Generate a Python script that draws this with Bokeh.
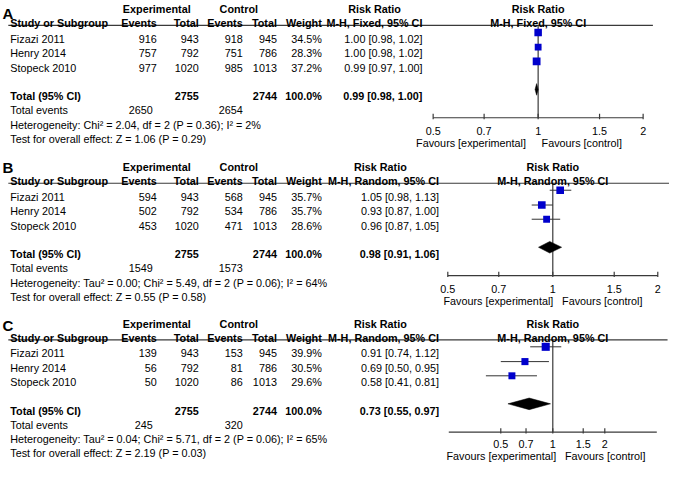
import math
from bokeh.plotting import figure
from bokeh.models import Range1d, LogScale, ColumnDataSource
from bokeh.core.properties import value
from bokeh.embed import file_html
from bokeh.resources import INLINE

# ---------------- data ----------------
studies = ["Fizazi 2011", "Henry 2014", "Stopeck 2010"]

a_exp_events = [916, 757, 977]
a_exp_total = [943, 792, 1020]
a_ctl_events = [918, 751, 985]
a_ctl_total = [945, 786, 1013]
a_weight = [34.5, 28.3, 37.2]
a_rr = [1.00, 1.00, 0.99]
a_lo = [0.98, 0.98, 0.97]
a_hi = [1.02, 1.02, 1.00]
a_total = [0.99, 0.98, 1.00]
a_total_n = [2755, 2744]
a_total_events = [2650, 2654]
a_het = "Heterogeneity: Chi\u00b2 = 2.04, df = 2 (P = 0.36); I\u00b2 = 2%"
a_test = "Test for overall effect: Z = 1.06 (P = 0.29)"

b_exp_events = [594, 502, 453]
b_exp_total = [943, 792, 1020]
b_ctl_events = [568, 534, 471]
b_ctl_total = [945, 786, 1013]
b_weight = [35.7, 35.7, 28.6]
b_rr = [1.05, 0.93, 0.96]
b_lo = [0.98, 0.87, 0.87]
b_hi = [1.13, 1.00, 1.05]
b_total = [0.98, 0.91, 1.06]
b_total_n = [2755, 2744]
b_total_events = [1549, 1573]
b_het = "Heterogeneity: Tau\u00b2 = 0.00; Chi\u00b2 = 5.49, df = 2 (P = 0.06); I\u00b2 = 64%"
b_test = "Test for overall effect: Z = 0.55 (P = 0.58)"

c_exp_events = [139, 56, 50]
c_exp_total = [943, 792, 1020]
c_ctl_events = [153, 81, 86]
c_ctl_total = [945, 786, 1013]
c_weight = [39.9, 30.5, 29.6]
c_rr = [0.91, 0.69, 0.58]
c_lo = [0.74, 0.50, 0.41]
c_hi = [1.12, 0.95, 0.81]
c_total = [0.73, 0.55, 0.97]
c_total_n = [2755, 2744]
c_total_events = [245, 320]
c_het = "Heterogeneity: Tau\u00b2 = 0.04; Chi\u00b2 = 5.71, df = 2 (P = 0.06); I\u00b2 = 65%"
c_test = "Test for overall effect: Z = 2.19 (P = 0.03)"

tick_values = [0.5, 0.7, 1, 1.5, 2]
tick_labels = ["0.5", "0.7", "1", "1.5", "2"]

# ---------------- layout ----------------
W, H = 685, 478
FONT = "Liberation Sans"
FS = "10.8px"
LINE = "#3a3a3a"

p = figure(width=669, height=462, x_range=Range1d(0, W), y_range=Range1d(H, 0),
           output_backend="svg", toolbar_location=None, min_border=0)
p.axis.visible = False
p.grid.visible = False
p.outline_line_color = None
p.background_fill_color = "white"


def log_range(p_lo, p_hi, v_lo, v_hi):
    k = (p_hi - p_lo) / math.log(v_hi / v_lo)
    return Range1d(v_lo * math.exp(-p_lo / k), v_hi * math.exp((W - p_hi) / k))


panels = [
    dict(name="A", oy=0, letter_y=13.3, method="M-H, Fixed, 95% CI", rr_right=432, rr_head=383,
         ax=(443, 658, 0.5, 2.0), ax_ends=(0.5, 2.0), line_end=668, tick_y=135, fav_y=147.3,
         fav=(538, 554),
         d=(a_exp_events, a_exp_total, a_ctl_events, a_ctl_total, a_weight, a_rr, a_lo, a_hi,
            a_total, a_total_n, a_total_events, a_het, a_test)),
    dict(name="B", oy=163.3, letter_y=9.8, method="M-H, Random, 95% CI", rr_right=449, rr_head=389,
         ax=(458, 673, 0.5, 2.0), ax_ends=(0.5, 2.0), line_end=685, tick_y=135, fav_y=147.8,
         fav=(566, 575),
         d=(b_exp_events, b_exp_total, b_ctl_events, b_ctl_total, b_weight, b_rr, b_lo, b_hi,
            b_total, b_total_n, b_total_events, b_het, b_test)),
    dict(name="C", oy=325.3, letter_y=10.8, method="M-H, Random, 95% CI", rr_right=449, rr_head=389,
         ax=(459, 672, 0.25, 4.0), ax_ends=(0.25, 4.0), line_end=683, tick_y=133.5, fav_y=146.0,
         fav=(569, 578),
         d=(c_exp_events, c_exp_total, c_ctl_events, c_ctl_total, c_weight, c_rr, c_lo, c_hi,
            c_total, c_total_n, c_total_events, c_het, c_test)),
]

p.extra_x_ranges = {pn["name"]: log_range(*pn["ax"]) for pn in panels}
p.extra_x_scales = {pn["name"]: LogScale() for pn in panels}

main = dict(x=[], y=[], text=[], align=[], style=[], size=[])
logtx = {pn["name"]: dict(x=[], y=[], text=[], align=[], style=[], size=[]) for pn in panels}


def put(store, x, y, s, align="left", bold=False, size=FS):
    store["x"].append(x)
    store["y"].append(y)
    store["text"].append(s)
    store["align"].append(align)
    store["style"].append("bold" if bold else "normal")
    store["size"].append(size)


COL_STUDY = 10
COL_EE, COL_ET, COL_CE, COL_CT, COL_W = 160, 203, 248, 283, 329
ROWS = [39.5, 54.8, 69.5]
Y_TOTAL, Y_EVENTS, Y_HET, Y_TEST = 99, 113.5, 128.5, 143.3
Y_HEAD1, Y_HEAD2, Y_RULE = 9.3, 23.5, 25.8
AXIS_Y = 121.3

for pn in panels:
    oy = pn["oy"]
    nm = pn["name"]
    (ee, et, ce, ct, wt, rr, lo, hi, tot, tot_n, tot_ev, het, test) = pn["d"]
    lt = logtx[nm]

    put(main, 2, oy + pn["letter_y"], nm, bold=True, size="15px")
    put(main, 160, oy + Y_HEAD1, "Experimental", "center", True)
    put(main, 244, oy + Y_HEAD1, "Control", "center", True)
    put(main, pn["rr_head"], oy + Y_HEAD1, "Risk Ratio", "center", True)
    put(main, COL_STUDY, oy + Y_HEAD2, "Study or Subgroup", bold=True)
    put(main, COL_EE, oy + Y_HEAD2, "Events", "right", True)
    put(main, COL_ET, oy + Y_HEAD2, "Total", "right", True)
    put(main, COL_CE, oy + Y_HEAD2, "Events", "right", True)
    put(main, COL_CT, oy + Y_HEAD2, "Total", "right", True)
    put(main, COL_W, oy + Y_HEAD2, "Weight", "right", True)
    put(main, pn["rr_right"], oy + Y_HEAD2, pn["method"], "right", True)

    put(lt, 1.0, oy + Y_HEAD1, "Risk Ratio", "center", True)
    put(lt, 1.0, oy + Y_HEAD2, pn["method"], "center", True)

    for i, s in enumerate(studies):
        y = oy + ROWS[i]
        put(main, COL_STUDY, y, s)
        put(main, COL_EE, y, str(ee[i]), "right")
        put(main, COL_ET, y, str(et[i]), "right")
        put(main, COL_CE, y, str(ce[i]), "right")
        put(main, COL_CT, y, str(ct[i]), "right")
        put(main, COL_W, y, f"{wt[i]:.1f}%", "right")
        put(main, pn["rr_right"], y, f"{rr[i]:.2f} [{lo[i]:.2f}, {hi[i]:.2f}]", "right")

    y = oy + Y_TOTAL
    put(main, COL_STUDY, y, "Total (95% CI)", bold=True)
    put(main, COL_ET, y, str(tot_n[0]), "right", True)
    put(main, COL_CT, y, str(tot_n[1]), "right", True)
    put(main, COL_W, y, f"{sum(wt):.1f}%", "right", True)
    put(main, pn["rr_right"], y, f"{tot[0]:.2f} [{tot[1]:.2f}, {tot[2]:.2f}]", "right", True)

    put(main, COL_STUDY, oy + Y_EVENTS, "Total events")
    put(main, 156, oy + Y_EVENTS, str(tot_ev[0]), "right")
    put(main, COL_CE, oy + Y_EVENTS, str(tot_ev[1]), "right")
    put(main, COL_STUDY, oy + Y_HET, het)
    put(main, COL_STUDY, oy + Y_TEST, test)

    # tick labels & favours
    for tv, tl in zip(tick_values, tick_labels):
        put(lt, tv, oy + pn["tick_y"], tl, "center")
    put(main, pn["fav"][0], oy + pn["fav_y"], "Favours [experimental]", "right")
    put(main, pn["fav"][1], oy + pn["fav_y"], "Favours [control]", "left")

    # header rule
    p.segment(x0=[8], x1=[pn["line_end"]], y0=[oy + Y_RULE], y1=[oy + Y_RULE],
              line_color=LINE, line_width=1.2)

    # vertical no-effect line
    p.segment(x0=[1.0], x1=[1.0], y0=[oy + Y_RULE], y1=[oy + AXIS_Y],
              x_range_name=nm, line_color=LINE, line_width=1.2)

    # axis line and ticks
    a0, a1 = pn["ax_ends"]
    p.segment(x0=[a0], x1=[a1], y0=[oy + AXIS_Y], y1=[oy + AXIS_Y],
              x_range_name=nm, line_color=LINE, line_width=1.2)
    p.segment(x0=tick_values, x1=tick_values,
              y0=[oy + AXIS_Y - 4] * len(tick_values), y1=[oy + AXIS_Y + 1.5] * len(tick_values),
              x_range_name=nm, line_color=LINE, line_width=1.2)

    # CI lines
    ys = [oy + r - 6.5 for r in ROWS]
    p.segment(x0=lo, x1=hi, y0=ys, y1=ys, x_range_name=nm, line_color="#333333", line_width=1)
    # squares
    p.scatter(x=rr, y=ys, marker="square", size=[1.28 * math.sqrt(w) for w in wt],
              x_range_name=nm, fill_color="#0000CC", line_color=None)
    # diamond
    yd = oy + Y_TOTAL - 7
    hd = 6
    p.patches(xs=[[tot[1], tot[0], tot[2], tot[0]]], ys=[[yd, yd - hd, yd, yd + hd]],
              x_range_name=nm, fill_color="black", line_color="black", line_width=0.5)


def draw_text(store, range_name=None):
    src = ColumnDataSource(store)
    kw = dict(x="x", y="y", text="text", source=src, text_font=value(FONT),
              text_font_size="size", text_align="align", text_font_style="style",
              text_baseline="alphabetic", text_color="black")
    if range_name:
        kw["x_range_name"] = range_name
    p.text(**kw)


draw_text(main)
for nm, st in logtx.items():
    draw_text(st, nm)

open("out.html", "w").write(file_html(p, INLINE))
